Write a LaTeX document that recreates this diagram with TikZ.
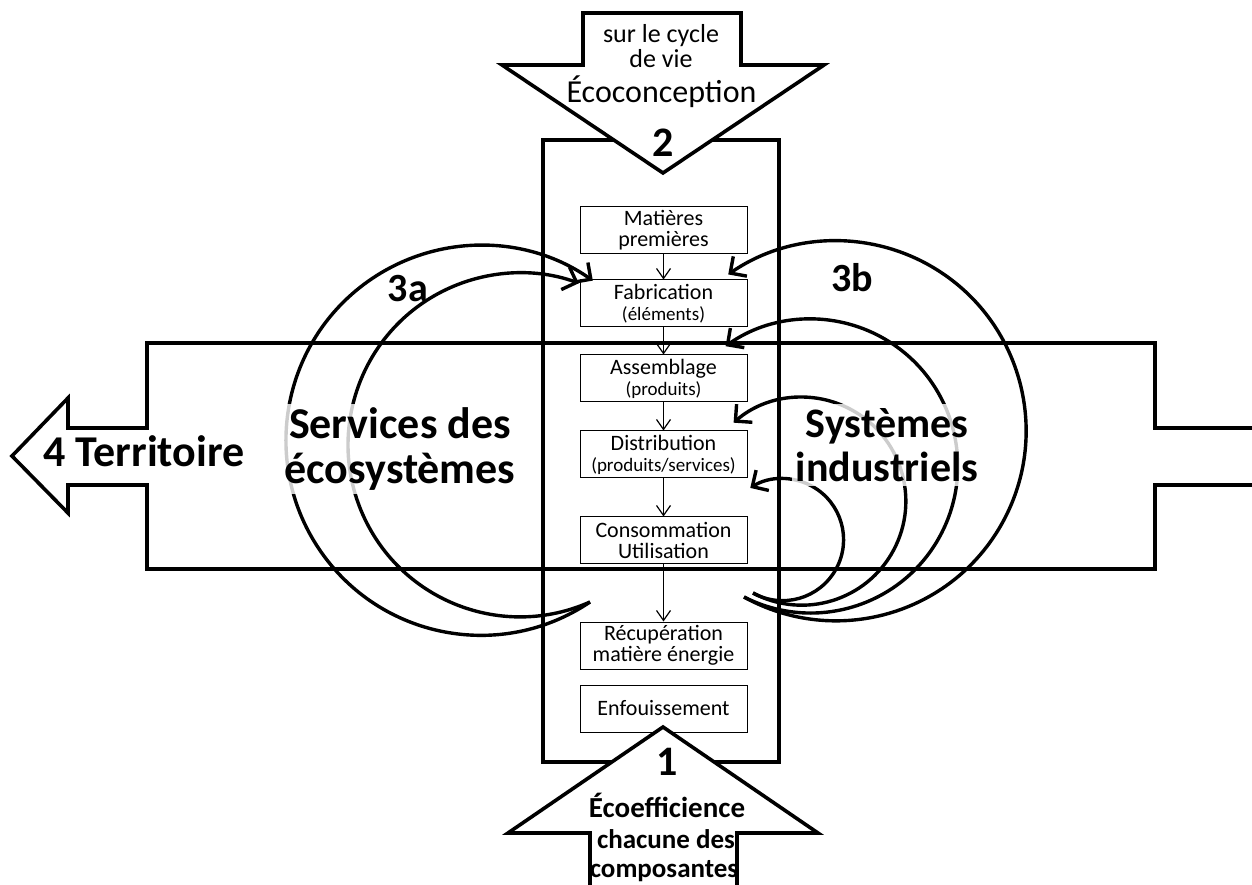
\documentclass[tikz,border=0pt]{standalone}
\usepackage{fontspec}
\setmainfont{Carlito}
\usetikzlibrary{arrows.meta, positioning}
\newcommand{\petit}{\fontsize{9.5}{10}\selectfont}

\begin{document}
\begin{tikzpicture}[x=0.5pt, y=0.5pt, etape/.style={
        rectangle,
        draw=black,
        line width=0.5pt,
        fill=white,
        minimum width=83.5pt,
        minimum height=23.5pt,
        inner sep=1pt,
        align=center,
        font=\fontsize{11}{10.5}\selectfont
    }, cadre/.style={
        line width=1.8pt,
        line join=miter
    }, boucle/.style={
        line width=1.7pt, -{Straight Barb[length=6pt,width=12pt]}
    }, arrow/.style={
        line width=0.6pt, -{Straight Barb[length=5pt,width=7pt]}
    }, grand/.style={
        fill=white,
        fill opacity=0.8,
        text opacity=1,
        inner sep=2pt,
        align=center
    }]
    \useasboundingbox (0,0) rectangle (1252,884);

    % territoire
    \draw [cadre] (1252,456) -- (1155,456) -- (1155,541) -- (147,541) -- (147,456) -- (68,456) -- (68,486) -- (12,428) -- (68,371) -- (68,399) -- (147,399) -- (147,315) -- (1155,315) -- (1155,399) -- (1252,399);
    \draw [cadre] (543,122) rectangle (779,744);

    \node (matieres) [etape] at (663.5,653.5) {Matières\\premières};
    \node (fabrication) [etape, below=12.5pt of matieres] {Fabrication\\{\petit (éléments)}};
    \node (assemblage) [etape, below=13.5pt of fabrication] {Assemblage\\{\petit (produits)}};
    \node (distribution) [etape, below=14pt of assemblage] {Distribution\\{\petit (produits/services)}};
    \node (consommation) [etape, below=19pt of distribution] {Consommation\\Utilisation};
    \node (recuperation) [etape, below=28.5pt of consommation] {Récupération\\matière énergie};
    \node (enfouissement) [etape, below=7.5pt of recuperation] {Enfouissement};
    \draw [arrow] (matieres) -- (fabrication);
    \draw [arrow] (fabrication) -- (assemblage);
    \draw [arrow] (assemblage) -- (distribution);
    \draw [arrow] (distribution) -- (consommation);
    \draw [arrow] (consommation) -- (recuperation);

    % boucles 3a et 3b
    \coordinate (depart a) at (590,282);
    \coordinate (depart b) at (744,287);
    \coordinate (depart c) at (753,291);
    \draw [boucle] (depart a) arc [start angle=-56, end angle=-305, radius=195];
    \draw [boucle] (depart a) arc [start angle=-66, end angle=-290, radius=172];
    \draw [boucle] (depart b) arc [start angle=-119, end angle=124.6, radius=190];
    \draw [boucle] (depart b) arc [start angle=-117, end angle=125.4, radius=147];
    \draw [boucle] (depart c) arc [start angle=-118, end angle=131, radius=104];
    \draw [boucle] (depart c) arc [start angle=-119, end angle=122, radius=61];

    \node (services) [grand, font=\fontsize{22}{22.5}\selectfont\bfseries] at (400,435) {Services des\\écosystèmes};
    \node (systemes) [grand, font=\fontsize{21}{22}\selectfont\bfseries] at (887,439) {Systèmes\\industriels};
    \node (territoire) [anchor=base, font=\fontsize{22}{22}\selectfont\bfseries] at (144,417) {4 Territoire};
    \node (trois a) [anchor=base, font=\fontsize{20}{20}\selectfont\bfseries] at (408,582) {3a};
    \node (trois b) [anchor=base, font=\fontsize{20}{20}\selectfont\bfseries] at (852,592) {3b};

    % 2 ecoconception
    \draw [cadre, fill=white] (583,871) -- (741,871) -- (741,819) -- (824,819) -- (663,711) -- (502,819) -- (583,819) -- cycle;
    \node (cycle) [anchor=base, font=\fontsize{13}{13}\selectfont] at (661,841) {sur le cycle};
    \node (vie) [anchor=base, font=\fontsize{13}{13}\selectfont] at (661,816) {de vie};
    \node (ecoconception) [anchor=base, font=\fontsize{16}{16}\selectfont] at (661.5,781) {Écoconception};
    \node (deux) [anchor=base, font=\fontsize{21}{21}\selectfont\bfseries] at (663,727) {2};

    % 1 ecoefficience
    \draw [cadre, fill=white] (590,-2) -- (590,51) -- (508,51) -- (663,157) -- (818,51) -- (737,51) -- (737,-2);
    \node (un) [anchor=base, font=\fontsize{21}{21}\selectfont\bfseries] at (667,109) {1};
    \node (ecoefficience) [anchor=base, font=\fontsize{14.5}{14.5}\selectfont\bfseries] at (667,67) {Écoefficience};
    \node (chacune) [anchor=base, font=\fontsize{13.5}{13.5}\selectfont\bfseries] at (666,36) {chacune des};
    \node (composantes) [anchor=base, font=\fontsize{13.5}{13.5}\selectfont\bfseries] at (664,7) {composantes};

\end{tikzpicture}
\end{document}
